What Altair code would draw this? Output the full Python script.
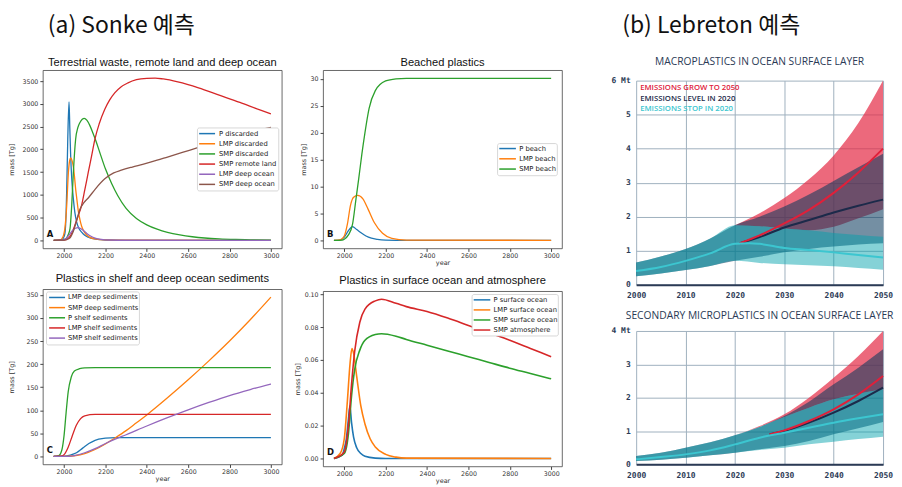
import altair as alt
import pandas as pd

TAB = ["#1f77b4", "#ff7f0e", "#2ca02c", "#d62728", "#9467bd", "#8c564b"]

HEADERS = ["(a) Sonke 예측", "(b) Lebreton 예측"]
TITLES = ["Terrestrial waste, remote land and deep ocean", "Beached plastics",
          "Plastics in shelf and deep ocean sediments", "Plastics in surface ocean and atmosphere",
          "MACROPLASTICS IN OCEAN SURFACE LAYER", "SECONDARY MICROPLASTICS IN OCEAN SURFACE LAYER"]

# ---------------- Panel A ----------------
A_NAMES = ["P discarded", "LMP discarded", "SMP discarded", "SMP remote land", "LMP deep ocean", "SMP deep ocean"]
A_P_DISC_YR = [1950, 1975, 1990, 2000, 2005, 2010, 2013, 2018, 2024, 2028, 2032, 2038, 2045, 2052, 2061, 2072, 2085, 2100, 2117, 2135, 2160, 2200, 2300, 3000]
A_P_DISC = [0, 2, 15, 80, 180, 600, 1130, 2220, 3040, 2450, 1860, 1300, 910, 620, 400, 260, 180, 110, 70, 40, 18, 6, 0, 0]
A_LMP_DISC_YR = [1950, 1980, 1995, 2005, 2013, 2021, 2027, 2032, 2038, 2045, 2050, 2056, 2062, 2069, 2077, 2085, 2097, 2109, 2125, 2149, 2200, 2300, 3000]
A_LMP_DISC = [0, 5, 80, 300, 770, 1490, 1750, 1810, 1760, 1620, 1420, 1130, 900, 640, 450, 310, 190, 115, 65, 30, 8, 1, 0]
A_SMP_DISC_YR = [1950, 1990, 2010, 2020, 2029, 2037, 2045, 2056, 2067, 2077, 2088, 2098, 2110, 2125, 2140, 2155, 2175, 2200, 2230, 2260, 2300, 2350, 2400, 2450, 2500, 2560, 2620, 2680, 2750, 2830, 2900, 3000]
A_SMP_DISC = [0, 5, 40, 120, 260, 760, 1490, 2220, 2480, 2590, 2660, 2680, 2640, 2520, 2350, 2170, 1900, 1570, 1250, 980, 700, 480, 340, 245, 175, 118, 78, 50, 30, 17, 10, 4]
A_SMP_REM_YR = [1950, 1990, 2010, 2030, 2050, 2065, 2085, 2100, 2117, 2133, 2149, 2170, 2197, 2220, 2245, 2275, 2309, 2350, 2400, 2440, 2480, 2550, 2650, 2750, 2850, 2950, 3000]
A_SMP_REM = [0, 2, 15, 90, 300, 500, 770, 1100, 1490, 1850, 2220, 2560, 2880, 3080, 3240, 3370, 3460, 3530, 3560, 3565, 3545, 3480, 3350, 3190, 3030, 2860, 2780]
A_LMP_DEEP_YR = [1950, 1990, 2010, 2025, 2040, 2055, 2068, 2080, 2095, 2110, 2130, 2150, 2180, 2220, 2300, 3000]
A_LMP_DEEP = [0, 5, 40, 120, 210, 265, 278, 260, 210, 150, 90, 50, 20, 6, 1, 0]
A_SMP_DEEP_YR = [1950, 2000, 2025, 2045, 2060, 2077, 2095, 2117, 2150, 2197, 2240, 2277, 2330, 2380, 2450, 2500, 2572, 2650, 2732, 2800, 2892, 3000]
A_SMP_DEEP = [0, 3, 40, 200, 420, 680, 820, 930, 1120, 1350, 1480, 1540, 1610, 1670, 1760, 1830, 1930, 2040, 2150, 2240, 2370, 2480]

# ---------------- Panel B ----------------
B_NAMES = ["P beach", "LMP beach", "SMP beach"]
B_P_YR = [1950, 1980, 2000, 2020, 2040, 2060, 2083, 2105, 2131, 2160, 2200, 2300, 3000]
B_P = [0, 0.05, 0.6, 1.8, 2.55, 2.0, 1.35, 0.8, 0.4, 0.18, 0.05, 0, 0]
B_LMP_YR = [1950, 1980, 2000, 2015, 2030, 2045, 2065, 2090, 2115, 2145, 2185, 2230, 2300, 3000]
B_LMP = [0, 0.1, 0.8, 3.0, 6.5, 8.0, 8.35, 7.7, 5.8, 3.3, 1.3, 0.35, 0.05, 0]
B_SMP_YR = [1950, 1990, 2000, 2020, 2040, 2056, 2070, 2085, 2100, 2120, 2150, 2200, 2250, 2300, 3000]
B_SMP = [0, 0.05, 0.2, 1.0, 3.0, 7.5, 11.5, 16, 20, 24.5, 27.8, 29.6, 30.0, 30.1, 30.1]

# ---------------- Panel C ----------------
C_NAMES = ["LMP deep sediments", "SMP deep sediments", "P shelf sediments", "LMP shelf sediments", "SMP shelf sediments"]
C_LMP_DEEP_YR = [1950, 2000, 2030, 2060, 2090, 2120, 2150, 2200, 2250, 3000]
C_LMP_DEEP = [0, 0.5, 3, 8, 18, 28, 35, 39.5, 41, 41]
C_SMP_DEEP_YR = [1950, 2000, 2050, 2100, 2150, 2200, 2250, 2300, 2350, 2400, 2500, 2600, 2700, 2800, 2900, 3000]
C_SMP_DEEP = [0, 0, 1.5, 6, 15, 27, 41, 56, 73, 90, 127, 166, 207, 250, 296, 345]
C_P_SHELF_YR = [1950, 1975, 1990, 2000, 2010, 2020, 2035, 2050, 2075, 2100, 2150, 3000]
C_P_SHELF = [0, 2, 15, 45, 95, 140, 172, 185, 190, 192, 192.5, 192.5]
C_LMP_SHELF_YR = [1950, 1990, 2000, 2020, 2040, 2060, 2080, 2100, 2150, 3000]
C_LMP_SHELF = [0, 1, 4, 20, 45, 68, 82, 88, 91, 91]
C_SMP_SHELF_YR = [1950, 2000, 2050, 2100, 2150, 2200, 2250, 2300, 2400, 2500, 2600, 2700, 2800, 2900, 3000]
C_SMP_SHELF = [0, 0, 2, 8, 17, 28, 38, 47, 66, 84, 101, 117, 132, 145, 157]

# ---------------- Panel D ----------------
D_NAMES = ["P surface ocean", "LMP surface ocean", "SMP surface ocean", "SMP atmosphere"]
D_P_YR = [1950, 1990, 2000, 2010, 2020, 2027, 2035, 2045, 2060, 2080, 2100, 2150, 2200, 3000]
D_P = [0, 0.002, 0.006, 0.012, 0.024, 0.032, 0.022, 0.013, 0.0065, 0.003, 0.0013, 0.0002, 0, 0]
D_LMP_YR = [1950, 1980, 2000, 2015, 2028, 2037, 2045, 2060, 2080, 2100, 2125, 2150, 2200, 2250, 2300, 3000]
D_LMP = [0, 0.003, 0.012, 0.035, 0.058, 0.067, 0.064, 0.05, 0.032, 0.021, 0.012, 0.007, 0.0025, 0.0008, 0.0002, 0]
D_SMP_YR = [1950, 2000, 2020, 2035, 2050, 2075, 2100, 2150, 2180, 2250, 2300, 2400, 2500, 2600, 2700, 2800, 2900, 3000]
D_SMP = [0, 0.003, 0.015, 0.038, 0.054, 0.066, 0.072, 0.0755, 0.076, 0.0745, 0.0725, 0.069, 0.0655, 0.062, 0.0585, 0.055, 0.0518, 0.0485]
D_ATM_YR = [1950, 2000, 2020, 2035, 2050, 2075, 2100, 2150, 2180, 2250, 2300, 2400, 2500, 2600, 2700, 2800, 2900, 3000]
D_ATM = [0, 0.004, 0.02, 0.045, 0.065, 0.083, 0.091, 0.096, 0.097, 0.0945, 0.0925, 0.0895, 0.0855, 0.081, 0.0765, 0.072, 0.067, 0.062]

# ---------------- Lebreton: macroplastics ----------------
E_YR = [2000, 2005, 2010, 2015, 2020, 2025, 2030, 2035, 2040, 2045, 2050]
E_RED_YR = [2020, 2025, 2030, 2035, 2040, 2045, 2050]
E_RED_LO = [1.75, 1.72, 1.65, 1.6, 1.7, 1.95, 2.22]
E_RED_HI = [1.75, 2.1, 2.55, 3.1, 3.8, 4.75, 6.0]
E_DARK_LO = [0.25, 0.33, 0.43, 0.55, 0.7, 0.82, 0.95, 1.05, 1.12, 1.18, 1.22]
E_DARK_HI = [0.65, 0.83, 1.05, 1.36, 1.75, 2.0, 2.3, 2.65, 3.05, 3.45, 3.85]
E_TEAL_LO = [0.25, 0.33, 0.43, 0.55, 0.7, 0.64, 0.6, 0.57, 0.54, 0.49, 0.44]
E_TEAL_HI = [0.65, 0.83, 1.05, 1.36, 1.75, 1.72, 1.65, 1.6, 1.52, 1.46, 1.41]
E_TEAL_LINE_YR = [2000, 2005, 2010, 2015, 2020, 2023, 2025, 2030, 2035, 2040, 2045, 2050]
E_TEAL_LINE = [0.4, 0.52, 0.7, 0.92, 1.2, 1.22, 1.2, 1.08, 1.02, 0.95, 0.87, 0.8]
E_NAVY_LINE_YR = [2021, 2025, 2030, 2035, 2040, 2045, 2050]
E_NAVY_LINE = [1.22, 1.4, 1.68, 1.9, 2.12, 2.32, 2.5]
E_RED_LINE_YR = [2021, 2025, 2030, 2035, 2040, 2045, 2050]
E_RED_LINE = [1.22, 1.45, 1.8, 2.2, 2.7, 3.3, 4.0]

# ---------------- Lebreton: secondary microplastics ----------------
F_YR = [2000, 2005, 2010, 2015, 2020, 2025, 2030, 2035, 2040, 2045, 2050]
F_RED_YR = [2020, 2025, 2030, 2035, 2040, 2045, 2050]
F_RED_LO = [0.87, 1.12, 1.42, 1.7, 1.95, 2.12, 2.25]
F_RED_HI = [0.87, 1.15, 1.5, 2.0, 2.6, 3.25, 4.0]
F_DARK_LO = [0.1, 0.14, 0.2, 0.27, 0.35, 0.45, 0.55, 0.7, 0.9, 1.08, 1.27]
F_DARK_HI = [0.25, 0.35, 0.5, 0.66, 0.87, 1.12, 1.45, 1.88, 2.4, 2.9, 3.45]
F_TEAL_LO = [0.1, 0.14, 0.2, 0.27, 0.35, 0.43, 0.5, 0.6, 0.68, 0.76, 0.83]
F_TEAL_HI = [0.25, 0.35, 0.5, 0.66, 0.87, 1.12, 1.42, 1.7, 1.95, 2.12, 2.25]
F_TEAL_LINE_YR = [2000, 2005, 2010, 2015, 2020, 2025, 2030, 2035, 2040, 2045, 2050]
F_TEAL_LINE = [0.15, 0.22, 0.3, 0.42, 0.6, 0.8, 0.95, 1.1, 1.25, 1.38, 1.5]
F_NAVY_LINE_YR = [2027, 2030, 2035, 2040, 2045, 2050]
F_NAVY_LINE = [0.9, 1.0, 1.25, 1.55, 1.9, 2.3]
F_RED_LINE_YR = [2027, 2030, 2035, 2040, 2045, 2050]
F_RED_LINE = [0.9, 1.02, 1.3, 1.65, 2.1, 2.65]

LEG_TEXT = ["EMISSIONS GROW TO 2050", "EMISSIONS LEVEL IN 2020", "EMISSIONS STOP IN 2020"]

RED_BAND = "#e42a44"
DARK_BAND = "#0b3a5e"
TEAL_BAND = "#00a0ab"
RED_LINE = "#e0203a"
NAVY_LINE = "#1c2a4a"
TEAL_LINE = "#3cc6d0"
SLATE = "#2b3a55"


def long_df(series):
    rows = []
    for name, yrs, vals in series:
        for y, v in zip(yrs, vals):
            rows.append({"series": name, "year": y, "value": v})
    return pd.DataFrame(rows)


def text_layer(txt, x, y, size, font, color="#111", align="center", weight="normal"):
    return alt.Chart(pd.DataFrame({"t": [txt]})).mark_text(
        align=align, baseline="middle", fontSize=size, font=font, color=color, fontWeight=weight
    ).encode(text="t:N", x=alt.value(x), y=alt.value(y))


def spacer_layer(x, y):
    # tiny white box on white background: fixes the left extent of a panel
    return alt.Chart(pd.DataFrame({"k": [0]})).mark_rect(color="white", opacity=1).encode(
        x=alt.value(x), x2=alt.value(x + 1), y=alt.value(y), y2=alt.value(y + 1))


def header_chart(txt, x, w):
    layer = text_layer(txt, x, 17, 23, "Noto Sans CJK KR", align="left") if txt else spacer_layer(0, 0)
    return layer.properties(width=w, height=33, view=alt.ViewBackground(strokeOpacity=0))


def legend_layers(names, colors, box, rows, line_x, text_x):
    bx1, bx2, by1, by2 = box
    out = [alt.Chart(pd.DataFrame({"k": [0]})).mark_rect(
        fill="white", stroke="#cccccc", strokeWidth=0.8, cornerRadius=2).encode(
        x=alt.value(bx1), x2=alt.value(bx2), y=alt.value(by1), y2=alt.value(by2))]
    for name, col, ry in zip(names, colors, rows):
        out.append(alt.Chart(pd.DataFrame({"k": [0]})).mark_rule(color=col, strokeWidth=1.5).encode(
            x=alt.value(line_x[0]), x2=alt.value(line_x[1]), y=alt.value(ry)))
        out.append(text_layer(name, text_x, ry, 6.8, "DejaVu Sans", color="#222", align="left"))
    return out


def sonke_panel(series, names, title, ydom, yticks, yfmt, letter, leg, ext, xtitle, h, title_y, extra, lw=1.3):
    df = long_df(series)
    colors = TAB[:len(names)]
    xaxis = alt.Axis(values=list(range(2000, 3001, 200)), format="d", title=xtitle,
                     labelFontSize=6.3, labelFont="DejaVu Sans", labelColor="#333",
                     titleFontSize=6.5, titleFont="DejaVu Sans", titleFontWeight="normal",
                     titleColor="#333", titlePadding=1, tickSize=3, tickColor="#444",
                     labelPadding=1, domain=False, grid=False, labelFlush=False)
    yaxis = alt.Axis(values=yticks, format=yfmt, title="mass [Tg]",
                     labelFontSize=6.3, labelFont="DejaVu Sans", labelColor="#333",
                     titleFontSize=6.5, titleFont="DejaVu Sans", titleFontWeight="normal",
                     titleColor="#333", titlePadding=3, tickSize=3, tickColor="#444",
                     labelPadding=2, domain=False, grid=False, minExtent=ext, maxExtent=ext)
    lines = alt.Chart(df).mark_line(strokeWidth=lw, interpolate="monotone", clip=True).encode(
        x=alt.X("year:Q", scale=alt.Scale(domain=[1897.5, 3052.5], nice=False, zero=False), axis=xaxis),
        y=alt.Y("value:Q", scale=alt.Scale(domain=ydom, nice=False, zero=False), axis=yaxis),
        color=alt.Color("series:N", scale=alt.Scale(domain=names, range=colors), sort=names, legend=None),
        order=alt.Order("year:Q"),
    )
    layers = [lines]
    layers += legend_layers(names, colors, *leg)
    layers += [text_layer(letter, 4, h - 14, 8.5, "DejaVu Sans", align="left", weight="bold"),
               text_layer(title, 120, title_y, 11.2, "Liberation Sans")]
    layers += extra
    return alt.layer(*layers).properties(
        width=240, height=h,
        view=alt.ViewBackground(stroke="#444444", strokeWidth=0.8),
    )


def band_df(yrs, lo, hi):
    return pd.DataFrame({"year": yrs, "lo": lo, "hi": hi})


def line_df(yrs, vals):
    return pd.DataFrame({"year": yrs, "v": vals})


def leb_panel(ymax, height, title, title_y, bands, lines, legend, extra):
    def xenc():
        return alt.X("year:Q", scale=alt.Scale(domain=[2000, 2050], nice=False, zero=False),
                     axis=alt.Axis(values=list(range(2000, 2051, 10)), format="d", title=None,
                                   grid=True, gridColor="#9fb0be", gridWidth=1,
                                   domain=True, domainColor=SLATE, domainWidth=2,
                                   ticks=False, tickSize=0, labelPadding=7,
                                   labelFont="DejaVu Sans Mono", labelFontWeight="bold",
                                   labelFontSize=8, labelColor=SLATE, labelFlush=False))

    def yenc(field):
        return alt.Y(field, scale=alt.Scale(domain=[0, ymax], nice=False, zero=True),
                     axis=alt.Axis(values=list(range(0, ymax + 1)), title=None,
                                   labelExpr="datum.value == %d ? '%d Mt' : datum.label" % (ymax, ymax),
                                   grid=True, gridColor="#9fb0be", gridWidth=1,
                                   domain=False, ticks=False, tickSize=0, labelPadding=6,
                                   labelFont="DejaVu Sans Mono", labelFontWeight="bold",
                                   labelFontSize=8, labelColor=SLATE))

    layers = []
    for df, col, op in bands:
        layers.append(alt.Chart(df).mark_area(color=col, opacity=op, interpolate="monotone").encode(
            x=xenc(), y=yenc("lo:Q"), y2="hi:Q"))
    for df, col in lines:
        layers.append(alt.Chart(df).mark_line(color=col, strokeWidth=2, interpolate="monotone").encode(
            x=xenc(), y=yenc("v:Q")))
    if legend:
        for i, (txt, col) in enumerate(zip(LEG_TEXT, [RED_LINE, NAVY_LINE, TEAL_LINE])):
            layers.append(text_layer(txt, 4, 7 + 11 * i, 7.8, "Open Sans", color=col, align="left", weight=600))
    layers.append(text_layer(title, 124, title_y, 10.3, "Open Sans", color=SLATE))
    layers += extra
    return alt.layer(*layers).properties(
        width=248, height=height,
        view=alt.ViewBackground(strokeOpacity=0),
    )


A = sonke_panel([(A_NAMES[0], A_P_DISC_YR, A_P_DISC), (A_NAMES[1], A_LMP_DISC_YR, A_LMP_DISC),
                 (A_NAMES[2], A_SMP_DISC_YR, A_SMP_DISC), (A_NAMES[3], A_SMP_REM_YR, A_SMP_REM),
                 (A_NAMES[4], A_LMP_DEEP_YR, A_LMP_DEEP), (A_NAMES[5], A_SMP_DEEP_YR, A_SMP_DEEP)],
                A_NAMES, TITLES[0], [-178, 3738], list(range(0, 3501, 500)), "d", "A",
                ((155.3, 237, 58, 121.3), [63.7, 73.9, 84.1, 94.3, 104.5, 114.7], (157, 173), 177),
                25.5, None, 179, -7, [])
B = sonke_panel([(B_NAMES[0], B_P_YR, B_P), (B_NAMES[1], B_LMP_YR, B_LMP), (B_NAMES[2], B_SMP_YR, B_SMP)],
                B_NAMES, TITLES[1], [-1.5, 31.6], list(range(0, 31, 5)), "d", "B",
                ((175.3, 235.3, 73.7, 106), [78.7, 89, 99.3], (177, 193.7), 197),
                14, "year", 179, -7, [spacer_layer(-30.5, 0)])
C = sonke_panel([(C_NAMES[0], C_LMP_DEEP_YR, C_LMP_DEEP), (C_NAMES[1], C_SMP_DEEP_YR, C_SMP_DEEP),
                 (C_NAMES[2], C_P_SHELF_YR, C_P_SHELF), (C_NAMES[3], C_LMP_SHELF_YR, C_LMP_SHELF),
                 (C_NAMES[4], C_SMP_SHELF_YR, C_SMP_SHELF)],
                C_NAMES, TITLES[2], [-17.25, 362.25], list(range(0, 351, 50)), "d", "C",
                ((3.7, 97, 2.7, 56), [8.3, 18.5, 28.7, 38.9, 49.1], (6.3, 22.3), 25.3),
                25.5, "year", 176, -10, [])
D = sonke_panel([(D_NAMES[0], D_P_YR, D_P), (D_NAMES[1], D_LMP_YR, D_LMP),
                 (D_NAMES[2], D_SMP_YR, D_SMP), (D_NAMES[3], D_ATM_YR, D_ATM)],
                D_NAMES, TITLES[3], [-0.00485, 0.1019], [0, 0.02, 0.04, 0.06, 0.08, 0.10], ".2f", "D",
                ((149.7, 236.3, 3.3, 45), [8.7, 18.8, 28.9, 39], (151.3, 168), 171.3),
                20, "year", 176, -10, [], lw=1.6)

E = leb_panel(6, 205, TITLES[4], -19,
              [(band_df(E_RED_YR, E_RED_LO, E_RED_HI), RED_BAND, 0.7),
               (band_df(E_YR, E_DARK_LO, E_DARK_HI), DARK_BAND, 0.57),
               (band_df(E_YR, E_TEAL_LO, E_TEAL_HI), TEAL_BAND, 0.48)],
              [(line_df(E_NAVY_LINE_YR, E_NAVY_LINE), NAVY_LINE),
               (line_df(E_RED_LINE_YR, E_RED_LINE), RED_LINE),
               (line_df(E_TEAL_LINE_YR, E_TEAL_LINE), TEAL_LINE)], True,
              [spacer_layer(-63.5, 0)])
F = leb_panel(4, 134, TITLES[5], -15,
              [(band_df(F_RED_YR, F_RED_LO, F_RED_HI), RED_BAND, 0.7),
               (band_df(F_YR, F_DARK_LO, F_DARK_HI), DARK_BAND, 0.57),
               (band_df(F_YR, F_TEAL_LO, F_TEAL_HI), TEAL_BAND, 0.48)],
              [(line_df(F_NAVY_LINE_YR, F_NAVY_LINE), NAVY_LINE),
               (line_df(F_RED_LINE_YR, F_RED_LINE), RED_LINE),
               (line_df(F_TEAL_LINE_YR, F_TEAL_LINE), TEAL_LINE)], False, [])

HA = header_chart(HEADERS[0], 5, 240)
HS = header_chart(None, 0, 240)
HB = header_chart(HEADERS[1], -14, 248)

body1 = alt.vconcat(A, C, spacing=13).resolve_scale(color="independent")
body2 = alt.vconcat(B, D, spacing=7).resolve_scale(color="independent")
body3 = alt.vconcat(E, F, spacing=11.5)

col1 = alt.vconcat(HA, body1, spacing=14.4).resolve_scale(color="independent")
col2 = alt.vconcat(HS, body2, spacing=14.4).resolve_scale(color="independent")
col3 = alt.vconcat(HB, body3, spacing=14.85)

chart = alt.hconcat(col1, col2, col3, spacing=9.5).resolve_scale(color="independent").properties(
    padding=0, background="white")

chart.save("out.html", embed_options={"renderer": "svg", "actions": False})
